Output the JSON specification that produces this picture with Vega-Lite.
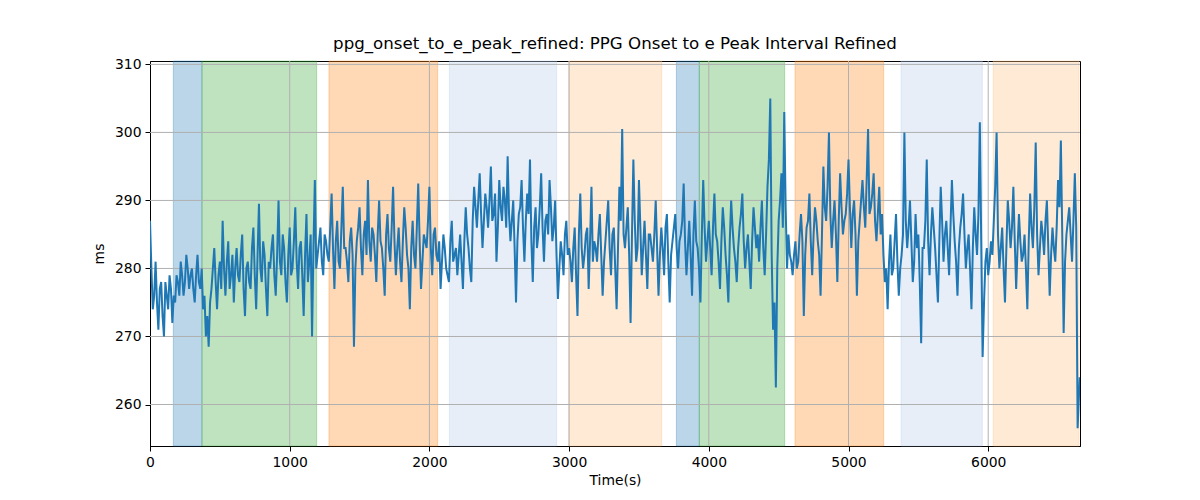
{
  "$schema": "https://vega.github.io/schema/vega-lite/v6.json",
  "description": "PPG onset to e peak interval over time with shaded phases.",
  "autosize": {"type": "none"},
  "padding": {"left": 150, "top": 61, "right": 120, "bottom": 54},
  "width": 930,
  "height": 385,
  "config": {
    "font": "DejaVu Sans",
    "view": {"stroke": "black", "strokeWidth": 1},
    "axis": {
      "labelFont": "DejaVu Sans",
      "labelFontSize": 13.9,
      "labelColor": "black",
      "labelFlush": false,
      "titleFont": "DejaVu Sans",
      "titleFontSize": 13.9,
      "titleFontWeight": "normal",
      "titleColor": "black",
      "tickColor": "black",
      "tickSize": 5,
      "domainColor": "black",
      "grid": false
    }
  },
  "title": {
    "text": "ppg_onset_to_e_peak_refined: PPG Onset to e Peak Interval Refined",
    "font": "DejaVu Sans",
    "fontSize": 16.67,
    "fontWeight": "normal",
    "anchor": "middle",
    "color": "black",
    "offset": 5
  },
  "datasets": {
    "phases": [
      {"start": 167, "end": 372, "phase": "a"},
      {"start": 372, "end": 1193, "phase": "b"},
      {"start": 1281, "end": 2059, "phase": "c"},
      {"start": 2143, "end": 2911, "phase": "d"},
      {"start": 2997, "end": 3663, "phase": "e"},
      {"start": 3768, "end": 3932, "phase": "a"},
      {"start": 3932, "end": 4543, "phase": "b"},
      {"start": 4617, "end": 5252, "phase": "c"},
      {"start": 5376, "end": 5958, "phase": "d"},
      {"start": 6036, "end": 6650, "phase": "e"}
    ],
    "xgrid": [{"t": 1000}, {"t": 2000}, {"t": 3000}, {"t": 4000}, {"t": 5000}, {"t": 6000}],
    "ygrid": [{"v": 260}, {"v": 270}, {"v": 280}, {"v": 290}, {"v": 300}, {"v": 310}],
    "series": [
      {"t":0,"v":287},{"t":10,"v":280},{"t":20,"v":274},{"t":30,"v":276},{"t":40,"v":281},{"t":50,"v":275},{"t":60,"v":271},{"t":70,"v":277},{"t":80,"v":278},{"t":90,"v":273},
      {"t":100,"v":270},{"t":110,"v":278},{"t":120,"v":276},{"t":130,"v":274},{"t":140,"v":279},{"t":150,"v":277},{"t":160,"v":272},{"t":170,"v":276},{"t":180,"v":275},{"t":190,"v":279},
      {"t":200,"v":278},{"t":210,"v":276},{"t":220,"v":281},{"t":230,"v":279},{"t":240,"v":276},{"t":250,"v":278},{"t":260,"v":282},{"t":270,"v":280},{"t":280,"v":277},{"t":290,"v":279},
      {"t":300,"v":280},{"t":310,"v":277},{"t":320,"v":275},{"t":330,"v":279},{"t":340,"v":282},{"t":350,"v":278},{"t":360,"v":277},{"t":370,"v":280},{"t":380,"v":274},{"t":390,"v":276},
      {"t":400,"v":270},{"t":410,"v":273},{"t":420,"v":268.5},{"t":430,"v":275},{"t":440,"v":277},{"t":450,"v":280},{"t":460,"v":283},{"t":470,"v":278},{"t":480,"v":274},{"t":490,"v":279},
      {"t":500,"v":281},{"t":510,"v":277},{"t":520,"v":287},{"t":530,"v":280},{"t":540,"v":276},{"t":550,"v":281},{"t":560,"v":284},{"t":570,"v":277},{"t":580,"v":279},{"t":590,"v":282},
      {"t":600,"v":275},{"t":610,"v":280},{"t":620,"v":283},{"t":630,"v":279},{"t":640,"v":278},{"t":650,"v":282},{"t":660,"v":285},{"t":670,"v":277},{"t":680,"v":273},{"t":690,"v":280},
      {"t":700,"v":281},{"t":710,"v":278},{"t":720,"v":277},{"t":730,"v":283},{"t":740,"v":286},{"t":750,"v":279},{"t":760,"v":274},{"t":770,"v":282},{"t":780,"v":289.5},{"t":790,"v":280},
      {"t":800,"v":278},{"t":810,"v":284},{"t":820,"v":282},{"t":830,"v":277},{"t":840,"v":273},{"t":850,"v":281},{"t":860,"v":280},{"t":870,"v":283},{"t":880,"v":285},{"t":890,"v":279},
      {"t":900,"v":276},{"t":910,"v":282},{"t":920,"v":290},{"t":930,"v":281},{"t":940,"v":279},{"t":950,"v":285},{"t":960,"v":283},{"t":970,"v":278},{"t":980,"v":275},{"t":990,"v":282},
      {"t":1000,"v":286},{"t":1010,"v":279},{"t":1020,"v":280},{"t":1030,"v":284},{"t":1040,"v":289},{"t":1050,"v":281},{"t":1060,"v":277},{"t":1070,"v":283},{"t":1080,"v":284},{"t":1090,"v":279},
      {"t":1100,"v":273},{"t":1110,"v":282},{"t":1120,"v":288},{"t":1130,"v":278},{"t":1140,"v":281},{"t":1150,"v":285},{"t":1160,"v":270},{"t":1170,"v":283},{"t":1180,"v":293},{"t":1190,"v":280},
      {"t":1200,"v":282},{"t":1210,"v":284},{"t":1220,"v":286},{"t":1230,"v":281},{"t":1240,"v":279},{"t":1250,"v":285},{"t":1260,"v":284},{"t":1270,"v":282},{"t":1280,"v":281},{"t":1290,"v":286},
      {"t":1300,"v":291},{"t":1310,"v":283},{"t":1320,"v":277},{"t":1330,"v":284},{"t":1340,"v":287},{"t":1350,"v":281},{"t":1360,"v":280},{"t":1370,"v":286},{"t":1380,"v":292},{"t":1390,"v":283},
      {"t":1400,"v":283},{"t":1410,"v":281},{"t":1420,"v":278},{"t":1430,"v":284},{"t":1440,"v":286},{"t":1450,"v":282},{"t":1460,"v":268.5},{"t":1470,"v":280},{"t":1480,"v":284},{"t":1490,"v":286},
      {"t":1500,"v":289},{"t":1510,"v":283},{"t":1520,"v":279},{"t":1530,"v":285},{"t":1540,"v":287},{"t":1550,"v":282},{"t":1560,"v":293},{"t":1570,"v":284},{"t":1580,"v":281},{"t":1590,"v":286},
      {"t":1600,"v":285},{"t":1610,"v":282},{"t":1620,"v":278},{"t":1630,"v":285},{"t":1640,"v":290},{"t":1650,"v":284},{"t":1660,"v":283},{"t":1670,"v":280},{"t":1680,"v":276},{"t":1690,"v":285},
      {"t":1700,"v":288},{"t":1710,"v":283},{"t":1720,"v":281},{"t":1730,"v":286},{"t":1740,"v":292},{"t":1750,"v":284},{"t":1760,"v":279},{"t":1770,"v":283},{"t":1780,"v":286},{"t":1790,"v":281},
      {"t":1800,"v":278},{"t":1810,"v":284},{"t":1820,"v":289},{"t":1830,"v":286},{"t":1840,"v":282},{"t":1850,"v":280},{"t":1860,"v":274},{"t":1870,"v":283},{"t":1880,"v":287},{"t":1890,"v":282},
      {"t":1900,"v":280},{"t":1910,"v":286},{"t":1920,"v":292.5},{"t":1930,"v":284},{"t":1940,"v":277},{"t":1950,"v":281},{"t":1960,"v":285},{"t":1970,"v":284},{"t":1980,"v":283},{"t":1990,"v":287},
      {"t":2000,"v":292},{"t":2010,"v":283},{"t":2020,"v":279},{"t":2030,"v":285},{"t":2040,"v":286},{"t":2050,"v":282},{"t":2060,"v":281},{"t":2070,"v":284},{"t":2080,"v":277},{"t":2090,"v":281},
      {"t":2100,"v":285},{"t":2110,"v":283},{"t":2120,"v":280},{"t":2130,"v":279},{"t":2140,"v":278},{"t":2150,"v":284},{"t":2160,"v":287},{"t":2170,"v":281},{"t":2180,"v":282},{"t":2190,"v":283},
      {"t":2200,"v":279},{"t":2210,"v":282},{"t":2220,"v":285},{"t":2230,"v":281},{"t":2240,"v":277},{"t":2250,"v":284},{"t":2260,"v":289},{"t":2270,"v":285},{"t":2280,"v":283},{"t":2290,"v":280},
      {"t":2300,"v":278},{"t":2310,"v":287},{"t":2320,"v":292},{"t":2330,"v":289},{"t":2340,"v":286},{"t":2350,"v":290},{"t":2360,"v":294},{"t":2370,"v":288},{"t":2380,"v":283},{"t":2390,"v":287},
      {"t":2400,"v":291},{"t":2410,"v":289},{"t":2420,"v":286},{"t":2430,"v":290},{"t":2440,"v":295},{"t":2450,"v":287},{"t":2460,"v":288},{"t":2470,"v":291},{"t":2480,"v":281},{"t":2490,"v":286},
      {"t":2500,"v":293},{"t":2510,"v":289},{"t":2520,"v":287},{"t":2530,"v":292},{"t":2540,"v":290},{"t":2550,"v":286},{"t":2560,"v":296.5},{"t":2570,"v":288},{"t":2580,"v":284},{"t":2590,"v":287},
      {"t":2600,"v":290},{"t":2610,"v":283},{"t":2620,"v":275},{"t":2630,"v":284},{"t":2640,"v":288},{"t":2650,"v":289},{"t":2660,"v":293},{"t":2670,"v":286},{"t":2680,"v":281},{"t":2690,"v":287},
      {"t":2700,"v":291},{"t":2710,"v":288},{"t":2720,"v":296},{"t":2730,"v":284},{"t":2740,"v":278},{"t":2750,"v":286},{"t":2760,"v":289},{"t":2770,"v":283},{"t":2780,"v":285},{"t":2790,"v":289},
      {"t":2800,"v":294},{"t":2810,"v":286},{"t":2820,"v":281},{"t":2830,"v":287},{"t":2840,"v":288},{"t":2850,"v":285},{"t":2860,"v":293},{"t":2870,"v":289},{"t":2880,"v":284},{"t":2890,"v":286},
      {"t":2900,"v":290},{"t":2910,"v":282},{"t":2920,"v":275.5},{"t":2930,"v":280},{"t":2940,"v":284},{"t":2950,"v":282},{"t":2960,"v":279},{"t":2970,"v":285},{"t":2980,"v":287},{"t":2990,"v":282},
      {"t":3000,"v":283},{"t":3010,"v":281},{"t":3020,"v":278},{"t":3030,"v":283},{"t":3040,"v":286},{"t":3050,"v":279},{"t":3060,"v":273},{"t":3070,"v":285},{"t":3080,"v":291},{"t":3090,"v":283},
      {"t":3100,"v":280},{"t":3110,"v":282},{"t":3120,"v":285},{"t":3130,"v":286},{"t":3140,"v":277},{"t":3150,"v":284},{"t":3160,"v":292},{"t":3170,"v":281},{"t":3180,"v":284},{"t":3190,"v":283},
      {"t":3200,"v":281},{"t":3210,"v":285},{"t":3220,"v":288},{"t":3230,"v":282},{"t":3240,"v":276},{"t":3250,"v":281},{"t":3260,"v":284},{"t":3270,"v":287},{"t":3280,"v":290},{"t":3290,"v":283},
      {"t":3300,"v":279},{"t":3310,"v":285},{"t":3320,"v":286},{"t":3330,"v":280},{"t":3340,"v":274},{"t":3350,"v":283},{"t":3360,"v":292},{"t":3370,"v":287},{"t":3380,"v":300.5},{"t":3390,"v":285},
      {"t":3400,"v":283},{"t":3410,"v":286},{"t":3420,"v":289},{"t":3430,"v":282},{"t":3440,"v":272},{"t":3450,"v":285},{"t":3460,"v":296},{"t":3470,"v":287},{"t":3480,"v":281},{"t":3490,"v":283},
      {"t":3500,"v":293},{"t":3510,"v":286},{"t":3520,"v":279},{"t":3530,"v":283},{"t":3540,"v":287},{"t":3550,"v":282},{"t":3560,"v":277},{"t":3570,"v":285},{"t":3580,"v":285},{"t":3590,"v":283},
      {"t":3600,"v":281},{"t":3610,"v":285},{"t":3620,"v":290},{"t":3630,"v":283},{"t":3640,"v":276},{"t":3650,"v":282},{"t":3660,"v":286},{"t":3670,"v":283},{"t":3680,"v":279},{"t":3690,"v":286},
      {"t":3700,"v":288},{"t":3710,"v":281},{"t":3720,"v":275},{"t":3730,"v":282},{"t":3740,"v":284},{"t":3750,"v":286},{"t":3760,"v":288},{"t":3770,"v":283},{"t":3780,"v":280},{"t":3790,"v":284},
      {"t":3800,"v":285},{"t":3810,"v":287},{"t":3820,"v":292.5},{"t":3830,"v":284},{"t":3840,"v":279},{"t":3850,"v":283},{"t":3860,"v":287},{"t":3870,"v":282},{"t":3880,"v":276},{"t":3890,"v":285},
      {"t":3900,"v":290},{"t":3910,"v":284},{"t":3920,"v":283},{"t":3930,"v":280},{"t":3940,"v":275},{"t":3950,"v":285},{"t":3960,"v":293},{"t":3970,"v":286},{"t":3980,"v":281},{"t":3990,"v":284},
      {"t":4000,"v":287},{"t":4010,"v":283},{"t":4020,"v":279},{"t":4030,"v":286},{"t":4040,"v":291},{"t":4050,"v":285},{"t":4060,"v":284},{"t":4070,"v":281},{"t":4080,"v":277},{"t":4090,"v":284},
      {"t":4100,"v":289},{"t":4110,"v":286},{"t":4120,"v":282},{"t":4130,"v":279},{"t":4140,"v":275},{"t":4150,"v":284},{"t":4160,"v":290},{"t":4170,"v":286},{"t":4180,"v":283},{"t":4190,"v":281},
      {"t":4200,"v":278},{"t":4210,"v":283},{"t":4220,"v":286},{"t":4230,"v":288},{"t":4240,"v":291},{"t":4250,"v":284},{"t":4260,"v":280},{"t":4270,"v":283},{"t":4280,"v":285},{"t":4290,"v":281},
      {"t":4300,"v":277},{"t":4310,"v":284},{"t":4320,"v":289},{"t":4330,"v":286},{"t":4340,"v":283},{"t":4350,"v":285},{"t":4360,"v":281},{"t":4370,"v":286},{"t":4380,"v":290},{"t":4390,"v":283},
      {"t":4400,"v":279},{"t":4410,"v":285},{"t":4420,"v":292},{"t":4430,"v":296},{"t":4440,"v":305},{"t":4450,"v":282},{"t":4460,"v":271},{"t":4470,"v":275},{"t":4480,"v":262.5},{"t":4490,"v":280},
      {"t":4500,"v":287},{"t":4510,"v":290},{"t":4520,"v":294},{"t":4530,"v":286},{"t":4540,"v":303},{"t":4550,"v":289},{"t":4560,"v":280},{"t":4570,"v":285},{"t":4580,"v":282},{"t":4590,"v":281},
      {"t":4600,"v":279},{"t":4610,"v":282},{"t":4620,"v":284},{"t":4630,"v":280},{"t":4640,"v":281},{"t":4650,"v":285},{"t":4660,"v":288},{"t":4670,"v":284},{"t":4680,"v":273},{"t":4690,"v":282},
      {"t":4700,"v":286},{"t":4710,"v":287},{"t":4720,"v":291},{"t":4730,"v":284},{"t":4740,"v":279},{"t":4750,"v":285},{"t":4760,"v":289},{"t":4770,"v":287},{"t":4780,"v":284},{"t":4790,"v":282},
      {"t":4800,"v":276},{"t":4810,"v":285},{"t":4820,"v":295},{"t":4830,"v":289},{"t":4840,"v":287},{"t":4850,"v":292},{"t":4860,"v":300},{"t":4870,"v":288},{"t":4880,"v":283},{"t":4890,"v":287},
      {"t":4900,"v":290},{"t":4910,"v":285},{"t":4920,"v":278},{"t":4930,"v":287},{"t":4940,"v":294},{"t":4950,"v":289},{"t":4960,"v":285},{"t":4970,"v":287},{"t":4980,"v":288},{"t":4990,"v":291},
      {"t":5000,"v":296},{"t":5010,"v":289},{"t":5020,"v":283},{"t":5030,"v":288},{"t":5040,"v":290},{"t":5050,"v":285},{"t":5060,"v":276},{"t":5070,"v":284},{"t":5080,"v":287},{"t":5090,"v":290},
      {"t":5100,"v":293},{"t":5110,"v":289},{"t":5120,"v":286},{"t":5130,"v":293},{"t":5140,"v":300.5},{"t":5150,"v":288},{"t":5160,"v":289},{"t":5170,"v":291},{"t":5180,"v":294},{"t":5190,"v":287},
      {"t":5200,"v":284},{"t":5210,"v":288},{"t":5220,"v":292},{"t":5230,"v":285},{"t":5240,"v":288},{"t":5250,"v":282},{"t":5260,"v":278},{"t":5270,"v":280},{"t":5280,"v":274},{"t":5290,"v":281},
      {"t":5300,"v":285},{"t":5310,"v":279},{"t":5320,"v":280},{"t":5330,"v":284},{"t":5340,"v":288},{"t":5350,"v":281},{"t":5360,"v":276},{"t":5370,"v":280},{"t":5380,"v":282},{"t":5390,"v":285},
      {"t":5400,"v":300},{"t":5410,"v":287},{"t":5420,"v":283},{"t":5430,"v":286},{"t":5440,"v":290},{"t":5450,"v":284},{"t":5460,"v":278},{"t":5470,"v":281},{"t":5480,"v":288},{"t":5490,"v":283},
      {"t":5500,"v":285},{"t":5510,"v":278},{"t":5520,"v":269},{"t":5530,"v":283},{"t":5540,"v":283},{"t":5550,"v":287},{"t":5560,"v":296},{"t":5570,"v":284},{"t":5580,"v":279},{"t":5590,"v":285},
      {"t":5600,"v":289},{"t":5610,"v":286},{"t":5620,"v":283},{"t":5630,"v":279},{"t":5640,"v":275},{"t":5650,"v":284},{"t":5660,"v":292},{"t":5670,"v":287},{"t":5680,"v":281},{"t":5690,"v":285},
      {"t":5700,"v":287},{"t":5710,"v":283},{"t":5720,"v":279},{"t":5730,"v":286},{"t":5740,"v":293},{"t":5750,"v":288},{"t":5760,"v":284},{"t":5770,"v":281},{"t":5780,"v":276},{"t":5790,"v":283},
      {"t":5800,"v":286},{"t":5810,"v":288},{"t":5820,"v":291},{"t":5830,"v":285},{"t":5840,"v":280},{"t":5850,"v":283},{"t":5860,"v":285},{"t":5870,"v":280},{"t":5880,"v":274},{"t":5890,"v":283},
      {"t":5900,"v":289},{"t":5910,"v":285},{"t":5920,"v":282},{"t":5930,"v":288},{"t":5940,"v":301.5},{"t":5950,"v":284},{"t":5960,"v":267},{"t":5970,"v":275},{"t":5980,"v":281},{"t":5990,"v":283},
      {"t":6000,"v":279},{"t":6010,"v":281},{"t":6020,"v":284},{"t":6030,"v":282},{"t":6040,"v":287},{"t":6050,"v":292},{"t":6060,"v":300},{"t":6070,"v":285},{"t":6080,"v":280},{"t":6090,"v":283},
      {"t":6100,"v":286},{"t":6110,"v":280},{"t":6120,"v":275},{"t":6130,"v":283},{"t":6140,"v":290},{"t":6150,"v":287},{"t":6160,"v":283},{"t":6170,"v":286},{"t":6180,"v":292},{"t":6190,"v":284},
      {"t":6200,"v":277},{"t":6210,"v":283},{"t":6220,"v":288},{"t":6230,"v":284},{"t":6240,"v":281},{"t":6250,"v":282},{"t":6260,"v":285},{"t":6270,"v":280},{"t":6280,"v":274},{"t":6290,"v":284},
      {"t":6300,"v":291},{"t":6310,"v":286},{"t":6320,"v":283},{"t":6330,"v":289},{"t":6340,"v":298.5},{"t":6350,"v":285},{"t":6360,"v":279},{"t":6370,"v":283},{"t":6380,"v":287},{"t":6390,"v":285},
      {"t":6400,"v":282},{"t":6410,"v":287},{"t":6420,"v":290},{"t":6430,"v":283},{"t":6440,"v":276},{"t":6450,"v":282},{"t":6460,"v":286},{"t":6470,"v":283},{"t":6480,"v":281},{"t":6490,"v":286},
      {"t":6500,"v":293},{"t":6510,"v":289},{"t":6520,"v":298.8},{"t":6530,"v":285},{"t":6540,"v":270.5},{"t":6550,"v":281},{"t":6560,"v":285},{"t":6570,"v":287},{"t":6580,"v":289},{"t":6590,"v":285},
      {"t":6600,"v":281},{"t":6610,"v":287},{"t":6620,"v":294},{"t":6630,"v":286},{"t":6640,"v":256.5},{"t":6655,"v":264}
    ]
  },
  "layer": [
    {
      "data": {"name": "phases"},
      "mark": {"type": "rect", "fillOpacity": 0.3, "strokeOpacity": 0.3, "strokeWidth": 1},
      "encoding": {
        "x": {
          "field": "start",
          "type": "quantitative",
          "scale": {"domain": [0, 6657], "nice": false, "zero": false},
          "axis": {"title": "Time(s)", "values": [0, 1000, 2000, 3000, 4000, 5000, 6000], "format": "d", "labelPadding": 4, "titlePadding": 5}
        },
        "x2": {"field": "end"},
        "fill": {"field": "phase", "type": "nominal", "scale": {"domain": ["a", "b", "c", "d", "e"], "range": ["#1f77b4", "#2ca02c", "#ff7f0e", "#aec7e8", "#ffbb78"]}, "legend": null},
        "stroke": {"field": "phase", "type": "nominal", "scale": {"domain": ["a", "b", "c", "d", "e"], "range": ["#1f77b4", "#2ca02c", "#ff7f0e", "#aec7e8", "#ffbb78"]}, "legend": null}
      }
    },
    {
      "data": {"name": "xgrid"},
      "mark": {"type": "rule", "color": "#b0b0b0", "strokeWidth": 1},
      "encoding": {
        "x": {
          "field": "t",
          "type": "quantitative",
          "scale": {"domain": [0, 6657], "nice": false, "zero": false},
          "axis": {"title": "Time(s)", "values": [0, 1000, 2000, 3000, 4000, 5000, 6000], "format": "d", "labelPadding": 4, "titlePadding": 5}
        }
      }
    },
    {
      "data": {"name": "ygrid"},
      "mark": {"type": "rule", "color": "#b0b0b0", "strokeWidth": 1},
      "encoding": {
        "y": {
          "field": "v",
          "type": "quantitative",
          "scale": {"domain": [253.9, 310.5], "nice": false, "zero": false},
          "axis": {"title": "ms", "values": [260, 270, 280, 290, 300, 310], "format": "d", "labelPadding": 4, "titlePadding": 8}
        }
      }
    },
    {
      "data": {"name": "series"},
      "mark": {"type": "line", "color": "#1f77b4", "strokeWidth": 2, "clip": true},
      "encoding": {
        "x": {
          "field": "t",
          "type": "quantitative",
          "scale": {"domain": [0, 6657], "nice": false, "zero": false},
          "axis": {"title": "Time(s)", "values": [0, 1000, 2000, 3000, 4000, 5000, 6000], "format": "d", "labelPadding": 4, "titlePadding": 5}
        },
        "y": {
          "field": "v",
          "type": "quantitative",
          "scale": {"domain": [253.9, 310.5], "nice": false, "zero": false},
          "axis": {"title": "ms", "values": [260, 270, 280, 290, 300, 310], "format": "d", "labelPadding": 4, "titlePadding": 8}
        }
      }
    }
  ]
}
